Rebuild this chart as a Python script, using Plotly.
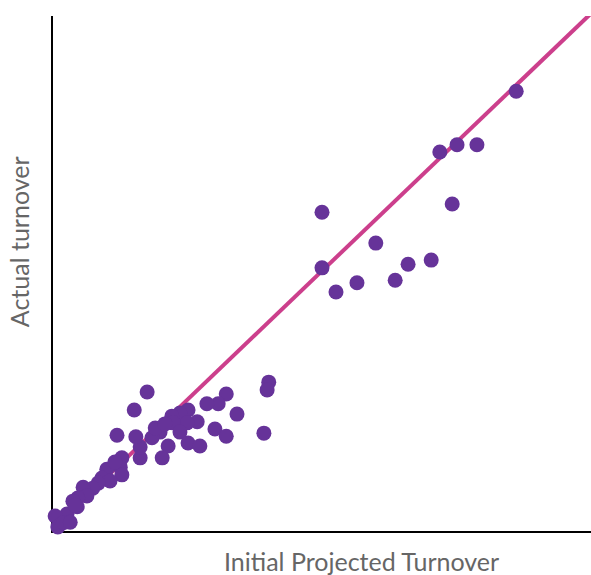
import plotly.graph_objects as go

projected = [86.1, 71.9, 75.1, 78.8, 74.2, 50.0, 60.0, 50.0, 52.6, 56.5, 63.6, 66.0, 70.3,
             40.1, 39.8, 39.2, 17.5, 15.1, 32.2, 30.7, 28.6, 34.2, 30.1, 32.2, 25.1, 23.6,
             22.1, 26.8, 24.9, 22.3, 23.6, 19.9, 18.4, 25.1, 27.3, 21.4, 20.3, 16.2, 16.2,
             15.4, 11.9, 12.8, 12.5, 10.0, 12.8, 9.1, 10.6, 8.4, 7.4, 5.6, 6.3, 4.6, 3.7,
             4.5, 2.6, 0.4, 0.9, 1.9, 3.2, 4.1, 11.5, 19.0, 20.8]
actual = [85.4, 73.6, 75.0, 75.0, 63.5, 61.9, 55.9, 51.1, 46.4, 48.2, 48.7, 51.8, 52.6,
          28.9, 27.4, 19.0, 27.0, 23.5, 26.6, 24.7, 24.7, 22.7, 19.8, 18.4, 23.5, 22.9,
          22.3, 21.2, 21.0, 21.0, 19.2, 19.2, 18.1, 17.1, 16.5, 16.5, 14.2, 14.2, 16.3,
          18.3, 18.6, 14.2, 12.4, 12.0, 10.9, 10.3, 9.7, 9.3, 8.3, 8.5, 6.8, 6.4, 5.8,
          4.7, 3.3, 2.9, 0.8, 1.6, 1.7, 5.0, 13.4, 20.0, 20.8]
fit_x = [0, 100]
fit_y = [0.5, 100.5]

fig = go.Figure()
fig.add_trace(go.Scatter(x=fit_x, y=fit_y, mode="lines",
                         line=dict(color="#cc3f8c", width=4), cliponaxis=False,
                         hoverinfo="skip"))
fig.add_trace(go.Scatter(x=projected, y=actual, mode="markers",
                         marker=dict(color="#663399", size=15, line=dict(width=0)),
                         cliponaxis=False))

fig.update_layout(
    width=591, height=575,
    margin=dict(l=53, r=0, t=16, b=44),
    plot_bgcolor="white", paper_bgcolor="white",
    showlegend=False,
    font=dict(family="Lato, sans-serif", color="#666666"),
    xaxis=dict(range=[0, 100], showgrid=False, zeroline=False, showticklabels=False,
               ticks="", showline=True, linecolor="black", linewidth=1.5,
               layer="below traces"),
    yaxis=dict(range=[0, 100], showgrid=False, zeroline=False, showticklabels=False,
               ticks="", showline=True, linecolor="black", linewidth=1.5,
               layer="below traces"),
    annotations=[
        dict(text="Initial Projected Turnover", xref="paper", yref="paper",
             x=0.5725, y=-0.058, xanchor="center", yanchor="middle", showarrow=False,
             font=dict(size=25, color="#666666")),
        dict(text="Actual turnover", xref="paper", yref="paper",
             x=-0.063, y=0.561, xanchor="center", yanchor="middle",
             textangle=-90, showarrow=False,
             font=dict(size=25, color="#666666")),
    ],
)

fig.write_html("out.html", config={"displayModeBar": False},
               post_script="document.body.style.margin='0';document.body.style.overflow='hidden';")
